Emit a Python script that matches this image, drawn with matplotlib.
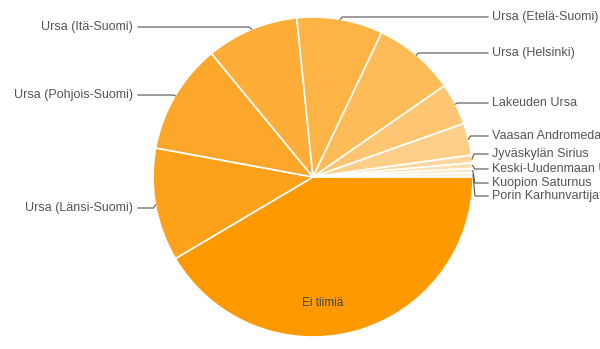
import numpy as np
import matplotlib
matplotlib.use('Agg')
import matplotlib.pyplot as plt

plt.rcParams['font.family'] = ['Liberation Sans', 'DejaVu Sans']

teams = ['Ei tiimiä', 'Ursa (Länsi-Suomi)', 'Ursa (Pohjois-Suomi)', 'Ursa (Itä-Suomi)',
         'Ursa (Etelä-Suomi)', 'Ursa (Helsinki)', 'Lakeuden Ursa', 'Vaasan Andromeda',
         'Jyväskylän Sirius', 'Keski-Uudenmaan Ursa', 'Kuopion Saturnus', 'Porin Karhunvartijat']
sizes = [149.3, 41.1, 40.1, 33.6, 31.25, 29.8, 15.25, 11.65, 2.75, 2.0, 1.6, 1.5]
colors = ['#ff9900', '#fda11a', '#fda72a', '#fdad38', '#feb445', '#febc58',
          '#fec673', '#fecf88', '#fed89e', '#fee0b1', '#fee8c5', '#fff0d9']

# label layout (pixels, y from top); None = drawn inside
label_y = [None, 208, 95, 27, 17, 53, 103, 136, 154, 169, 183, 196]

W, H = 600, 349
fig = plt.figure(figsize=(W / 100, H / 100), dpi=100)
cx, cy, r = 313, 177, 160
ax = fig.add_axes([(cx - r) / W, (H - cy - r) / H, 2 * r / W, 2 * r / H])
wedges, _ = ax.pie(sizes, colors=colors, startangle=0, counterclock=False,
                   wedgeprops=dict(edgecolor='white', linewidth=1.2))
ax.set_xlim(-1, 1)
ax.set_ylim(-1, 1)
ax.set_aspect('equal')
ax.axis('off')

ov = fig.add_axes([0, 0, 1, 1])
ov.set_xlim(0, W)
ov.set_ylim(H, 0)
ov.axis('off')
ov.patch.set_alpha(0)

fig.canvas.draw()
to_ov = ov.transData.inverted()

for w, name, ly in zip(wedges, teams, label_y):
    mid = np.deg2rad((w.theta1 + w.theta2) / 2)
    if ly is None:
        px, py = to_ov.transform(ax.transData.transform((0.06, -0.79)))
        ov.text(px, py, name, ha='center', va='center', fontsize=8.5, color='#3b4550')
        continue
    ex, ey = to_ov.transform(ax.transData.transform((np.cos(mid), np.sin(mid))))
    if ex > cx:
        ov.plot([ex, ex + 2, 488], [ey, ly, ly], color='#666666', lw=0.9)
        ov.text(492, ly, name, ha='left', va='center', fontsize=9, color='#555555')
    else:
        ov.plot([ex, ex - 2, 138], [ey, ly, ly], color='#666666', lw=0.9)
        ov.text(133, ly, name, ha='right', va='center', fontsize=9, color='#555555')

fig.savefig('out.png', dpi=100)
